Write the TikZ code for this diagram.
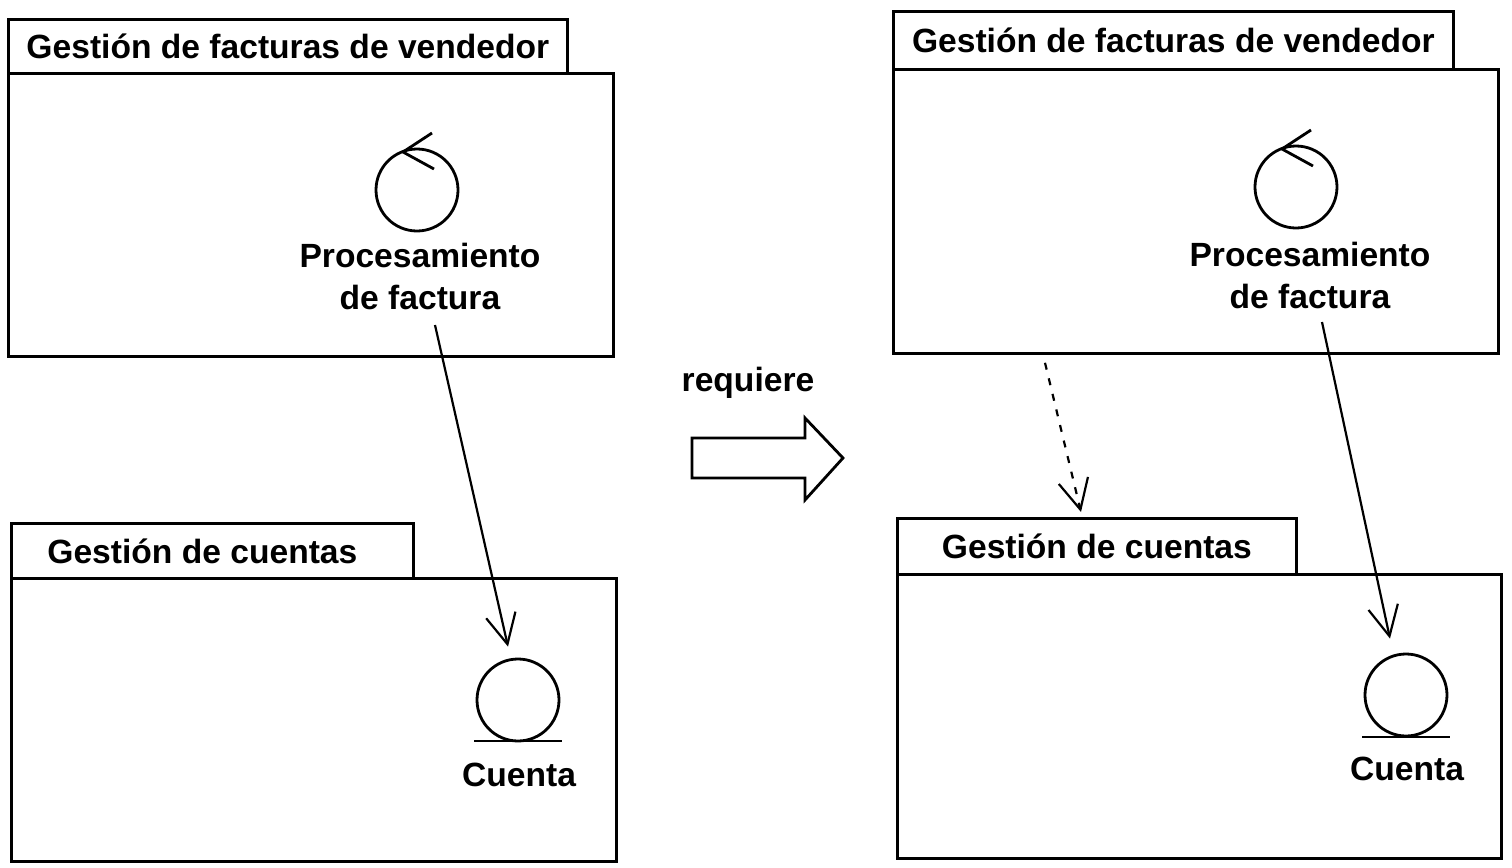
\documentclass[tikz,border=0pt]{standalone}
\usepackage{fontspec}
\setmainfont{Liberation Sans}
\usetikzlibrary{arrows.meta,calc}
\begin{document}
\begin{tikzpicture}[x=0.5pt,y=-0.5pt,
  font=\bfseries\fontsize{16.8}{21}\selectfont,
  pkgbox/.style={draw, line width=1.4pt, inner sep=0pt, anchor=north west},
  icon/.style={draw, circle, line width=1.4pt, inner sep=0pt, minimum size=41pt},
  lbl/.style={align=center, inner sep=0pt},
  dep/.style={line width=1.1pt, -{Straight Barb[length=15pt,width=15pt,line width=1.1pt]}},
  chev/.style={line width=1.4pt}]
\useasboundingbox (0,0) rectangle (1512,868);
% left top package
\node[pkgbox, minimum width=302.5pt, minimum height=141.5pt] (bodyL1) at (7,72) {};
\node[pkgbox, minimum width=279.5pt, minimum height=27pt] (tabL1) at (7,18) {Gestión de facturas de vendedor};
% left bottom package
\node[pkgbox, minimum width=302.5pt, minimum height=141.5pt] (bodyL2) at (10,577) {};
\node[pkgbox, minimum width=201pt, minimum height=27.5pt] (tabL2) at (10,522) {\hspace*{-10pt}Gestión de cuentas};
% right top package
\node[pkgbox, minimum width=302.5pt, minimum height=142pt] (bodyR1) at (892,68) {};
\node[pkgbox, minimum width=280pt, minimum height=29pt] (tabR1) at (892,10) {Gestión de facturas de vendedor};
% right bottom package
\node[pkgbox, minimum width=302pt, minimum height=142pt] (bodyR2) at (896,573) {};
\node[pkgbox, minimum width=199.5pt, minimum height=28pt] (tabR2) at (896,517) {Gestión de cuentas};

% control objects
\node[icon] (ctlL) at (417,190) {};
\draw[chev] ($(ctlL)+(15,-57)$) -- ($(ctlL)+(-14,-38)$) -- ($(ctlL)+(17,-21)$);
\node[lbl] (procL) at (420,276) {Procesamiento\\de factura};
\node[icon] (ctlR) at (1296,187) {};
\draw[chev] ($(ctlR)+(15,-57)$) -- ($(ctlR)+(-14,-38)$) -- ($(ctlR)+(17,-21)$);
\node[lbl] (procR) at (1310,275) {Procesamiento\\de factura};

% entity objects
\node[icon] (entL) at (518,700) {};
\draw[line width=1.4pt] ($(entL)+(-44,41)$) -- ($(entL)+(44,41)$);
\node[lbl] (cuentaL) at (519,775) {Cuenta};
\node[icon] (entR) at (1406,695) {};
\draw[line width=1.4pt] ($(entR)+(-44,42)$) -- ($(entR)+(44,42)$);
\node[lbl] (cuentaR) at (1407,769) {Cuenta};

% dependencies
\coordinate (sL) at (435,325);
\coordinate (sR) at (1322,322);
\draw[dep] (sL) -- ($(entL.north)+(-10,-11)$);
\draw[dep] (sR) -- ($(entR.north)+(-16,-14)$);
\draw[dep, dash pattern=on 3.5pt off 4.5pt] ($(bodyR1.south west)+(153,8)$) -- ($(tabR2.north west)+(185,-5)$);

% transformation arrow
\node[lbl] (req) at (748,383) {requiere};
\draw[line width=1.4pt, line join=miter] (692,438) -- (805,438) -- (805,418) -- (843,458) -- (805,500) -- (805,478) -- (692,478) -- cycle;
\end{tikzpicture}
\end{document}
